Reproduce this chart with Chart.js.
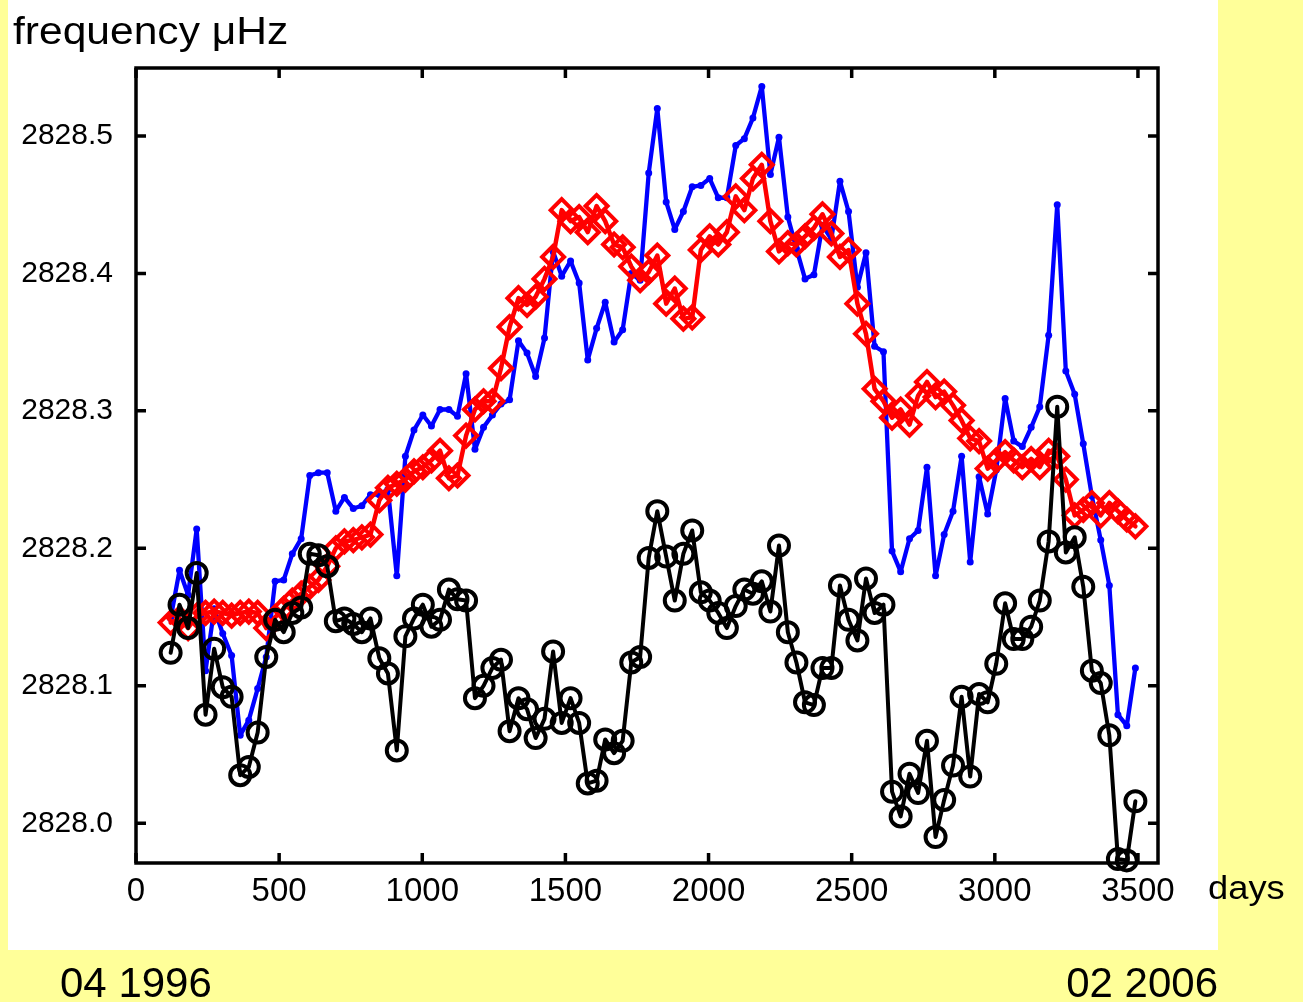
<!DOCTYPE html>
<html>
<head>
<meta charset="utf-8">
<title>frequency μHz</title>
<script src="https://cdn.jsdelivr.net/npm/chart.js@4.4.1/dist/chart.umd.min.js"></script>
<style>
  html, body { margin: 0; padding: 0; background: #FFFF99; }
  #wrap { width: 1303px; height: 1002px; }
</style>
</head>
<body>
<div id="wrap"><canvas id="c" width="1303" height="1002"></canvas></div>
<script>
// Observation days (counted from the start of the run)
const days = [
  121, 152, 182, 212, 243, 273, 303, 334, 364, 394,
  425, 455, 486, 516, 546, 577, 607, 637, 668, 698,
  728, 759, 789, 819, 850, 880, 911, 941, 971, 1002,
  1032, 1062, 1093, 1123, 1153, 1184, 1214, 1245, 1275, 1305,
  1336, 1366, 1396, 1427, 1457, 1487, 1518, 1548, 1578, 1609,
  1639, 1670, 1700, 1730, 1761, 1791, 1821, 1852, 1882, 1912,
  1943, 1973, 2004, 2034, 2064, 2095, 2125, 2155, 2186, 2216,
  2246, 2277, 2307, 2337, 2368, 2398, 2429, 2459, 2489, 2520,
  2550, 2580, 2611, 2641, 2671, 2702, 2732, 2763, 2793, 2823,
  2854, 2884, 2914, 2945, 2975, 3005, 3036, 3066, 3096, 3127,
  3157, 3188, 3218, 3248, 3279, 3309, 3339, 3370, 3400, 3430,
  3461, 3491
];

// Frequencies in μHz
const blueFreq = [
  2828.149, 2828.184, 2828.166, 2828.214, 2828.111, 2828.156, 2828.138, 2828.122, 2828.064, 2828.075,
  2828.098, 2828.121, 2828.176, 2828.177, 2828.196, 2828.207, 2828.253, 2828.255, 2828.255, 2828.227,
  2828.237, 2828.229, 2828.231, 2828.239, 2828.239, 2828.243, 2828.180, 2828.267, 2828.286, 2828.297,
  2828.289, 2828.301, 2828.301, 2828.296, 2828.327, 2828.272, 2828.288, 2828.297, 2828.305, 2828.308,
  2828.351, 2828.342, 2828.325, 2828.353, 2828.416, 2828.398, 2828.409, 2828.393, 2828.337, 2828.360,
  2828.379, 2828.350, 2828.359, 2828.400, 2828.395, 2828.473, 2828.520, 2828.452, 2828.432, 2828.445,
  2828.463, 2828.464, 2828.469, 2828.455, 2828.455, 2828.493, 2828.498, 2828.513, 2828.536, 2828.472,
  2828.499, 2828.441, 2828.418, 2828.396, 2828.399, 2828.435, 2828.425, 2828.467, 2828.445, 2828.390,
  2828.415, 2828.347, 2828.343, 2828.198, 2828.183, 2828.207, 2828.213, 2828.259, 2828.180, 2828.210,
  2828.227, 2828.267, 2828.190, 2828.252, 2828.225, 2828.257, 2828.309, 2828.278, 2828.274, 2828.288,
  2828.303, 2828.355, 2828.450, 2828.329, 2828.312, 2828.276, 2828.238, 2828.206, 2828.173, 2828.079,
  2828.071, 2828.113
];

const redFreq = [
  2828.146, 2828.149, 2828.142, 2828.151, 2828.153, 2828.154, 2828.153, 2828.151, 2828.153, 2828.154,
  2828.153, 2828.142, 2828.150, 2828.156, 2828.162, 2828.167, 2828.172, 2828.177, 2828.187, 2828.200,
  2828.205, 2828.206, 2828.208, 2828.210, 2828.235, 2828.244, 2828.247, 2828.250, 2828.256, 2828.259,
  2828.264, 2828.271, 2828.251, 2828.253, 2828.282, 2828.301, 2828.307, 2828.307, 2828.331, 2828.361,
  2828.382, 2828.377, 2828.383, 2828.396, 2828.412, 2828.446, 2828.438, 2828.441, 2828.430, 2828.449,
  2828.438, 2828.421, 2828.419, 2828.405, 2828.395, 2828.401, 2828.413, 2828.378, 2828.389, 2828.367,
  2828.368, 2828.417, 2828.427, 2828.421, 2828.430, 2828.456, 2828.446, 2828.469, 2828.479, 2828.438,
  2828.416, 2828.422, 2828.421, 2828.427, 2828.433, 2828.443, 2828.429, 2828.412, 2828.417, 2828.378,
  2828.356, 2828.316, 2828.307, 2828.295, 2828.301, 2828.290, 2828.311, 2828.321, 2828.310, 2828.314,
  2828.304, 2828.293, 2828.280, 2828.278, 2828.258, 2828.264, 2828.270, 2828.264, 2828.259, 2828.265,
  2828.259, 2828.271, 2828.267, 2828.250, 2828.224, 2828.228, 2828.233, 2828.224, 2828.233, 2828.227,
  2828.221, 2828.216
];

const blackFreq = [
  2828.124, 2828.159, 2828.142, 2828.182, 2828.079, 2828.127, 2828.099, 2828.092, 2828.035, 2828.041,
  2828.066, 2828.121, 2828.148, 2828.139, 2828.153, 2828.157, 2828.196, 2828.195, 2828.187, 2828.147,
  2828.149, 2828.145, 2828.139, 2828.149, 2828.120, 2828.109, 2828.053, 2828.136, 2828.149, 2828.159,
  2828.143, 2828.148, 2828.170, 2828.163, 2828.162, 2828.091, 2828.100, 2828.113, 2828.119, 2828.067,
  2828.091, 2828.083, 2828.062, 2828.076, 2828.125, 2828.073, 2828.091, 2828.073, 2828.029, 2828.031,
  2828.061, 2828.051, 2828.060, 2828.117, 2828.121, 2828.193, 2828.227, 2828.194, 2828.162, 2828.196,
  2828.213, 2828.168, 2828.162, 2828.153, 2828.142, 2828.158, 2828.170, 2828.167, 2828.176, 2828.154,
  2828.202, 2828.139, 2828.117, 2828.088, 2828.086, 2828.113, 2828.113, 2828.173, 2828.148, 2828.133,
  2828.178, 2828.153, 2828.159, 2828.023, 2828.005, 2828.036, 2828.022, 2828.060, 2827.990, 2828.017,
  2828.042, 2828.092, 2828.034, 2828.094, 2828.088, 2828.116, 2828.160, 2828.134, 2828.134, 2828.143,
  2828.162, 2828.205, 2828.303, 2828.197, 2828.208, 2828.172, 2828.111, 2828.102, 2828.064, 2827.974,
  2827.973, 2828.016
];

// Axis ticks
const xTicks = [0, 500, 1000, 1500, 2000, 2500, 3000, 3500];
const yTicks = [2828.0, 2828.1, 2828.2, 2828.3, 2828.4, 2828.5];

const FONT = "'Liberation Sans', Arial, Helvetica, sans-serif";

function pts(vals) {
  return days.map((d, i) => ({ x: d, y: vals[i] }));
}

// Background panels, axes box with inward ticks, and the free-standing texts
const framePlugin = {
  id: 'frame',
  beforeDraw(chart) {
    const ctx = chart.ctx;
    ctx.save();
    ctx.fillStyle = '#FFFF99';
    ctx.fillRect(0, 0, chart.width, chart.height);
    ctx.fillStyle = '#FFFFFF';
    ctx.fillRect(8, 0, 1210, 950);
    ctx.restore();
  },
  afterDatasetsDraw(chart) {
    const ctx = chart.ctx;
    const a = chart.chartArea;
    const xs = chart.scales.x, ys = chart.scales.y;
    ctx.save();
    ctx.strokeStyle = '#000';
    ctx.lineWidth = 3.5;
    ctx.strokeRect(a.left, a.top, a.right - a.left, a.bottom - a.top);
    ctx.lineWidth = 3.5;
    ctx.beginPath();
    const tl = 10;
    xTicks.forEach(v => {
      const px = xs.getPixelForValue(v);
      ctx.moveTo(px, a.bottom); ctx.lineTo(px, a.bottom - tl);
      ctx.moveTo(px, a.top); ctx.lineTo(px, a.top + tl);
    });
    yTicks.forEach(v => {
      const py = ys.getPixelForValue(v);
      ctx.moveTo(a.left, py); ctx.lineTo(a.left + tl, py);
      ctx.moveTo(a.right, py); ctx.lineTo(a.right - tl, py);
    });
    ctx.stroke();
    ctx.restore();
  },
  afterDraw(chart) {
    const ctx = chart.ctx;
    ctx.save();
    ctx.fillStyle = '#000';
    ctx.textBaseline = 'alphabetic';
    ctx.textAlign = 'left';

    // axis caption on top
    ctx.save();
    ctx.font = '38px ' + FONT;
    ctx.translate(13, 44);
    ctx.scale(1.12, 1);
    ctx.fillText('frequency μHz', 0, 0);
    ctx.restore();

    // x unit
    ctx.save();
    ctx.font = '33px ' + FONT;
    ctx.translate(1208, 899);
    ctx.scale(1.1, 1);
    ctx.fillText('days', 0, 0);
    ctx.restore();

    // start / end dates
    ctx.font = '42px ' + FONT;
    ctx.textAlign = 'left';
    ctx.fillText('04 1996', 60, 997);
    ctx.textAlign = 'right';
    ctx.fillText('02 2006', 1218, 997);
    ctx.restore();
  }
};

new Chart(document.getElementById('c'), {
  type: 'line',
  data: {
    datasets: [
      {
        label: 'black',
        data: pts(blackFreq),
        borderColor: '#000000',
        borderWidth: 4,
        borderJoinStyle: 'round',
        borderCapStyle: 'round',
        pointStyle: 'circle',
        pointRadius: 10,
        pointBorderWidth: 4,
        pointBorderColor: '#000000',
        pointBackgroundColor: 'rgba(0,0,0,0)',
        tension: 0,
        clip: false
      },
      {
        label: 'red',
        data: pts(redFreq),
        borderColor: '#FF0000',
        borderWidth: 4.5,
        borderJoinStyle: 'round',
        borderCapStyle: 'round',
        pointStyle: 'rectRot',
        pointRadius: 11,
        pointBorderWidth: 4,
        pointBorderColor: '#FF0000',
        pointBackgroundColor: 'rgba(0,0,0,0)',
        tension: 0,
        clip: false
      },
      {
        label: 'blue',
        data: pts(blueFreq),
        borderColor: '#0000FF',
        borderWidth: 4.3,
        borderJoinStyle: 'round',
        borderCapStyle: 'round',
        pointStyle: 'circle',
        pointRadius: 3.5,
        pointBorderWidth: 0,
        pointBackgroundColor: '#0000FF',
        tension: 0,
        clip: false
      }
    ]
  },
  options: {
    responsive: false,
    devicePixelRatio: 1,
    animation: false,
    events: [],
    layout: { padding: { left: 0, top: 68, right: 145, bottom: 0 } },
    plugins: {
      legend: { display: false },
      tooltip: { enabled: false },
      title: { display: false }
    },
    scales: {
      x: {
        type: 'linear',
        min: 0,
        max: 3570,
        afterBuildTicks: s => { s.ticks = xTicks.map(v => ({ value: v })); },
        afterFit: s => { s.height = 139; },
        grid: { display: false, drawTicks: false },
        border: { display: false },
        ticks: {
          color: '#000',
          font: { family: FONT, size: 33 },
          padding: 9,
          maxRotation: 0,
          autoSkip: false,
          callback: v => String(v)
        }
      },
      y: {
        type: 'linear',
        min: 2827.9711,
        max: 2828.5494,
        afterBuildTicks: s => { s.ticks = yTicks.map(v => ({ value: v })); },
        afterFit: s => { s.width = 136; },
        grid: { display: false, drawTicks: false },
        border: { display: false },
        ticks: {
          color: '#000',
          font: { family: FONT, size: 30 },
          padding: 23,
          autoSkip: false,
          callback: v => v.toFixed(1)
        }
      }
    }
  },
  plugins: [framePlugin]
});
</script>
</body>
</html>
